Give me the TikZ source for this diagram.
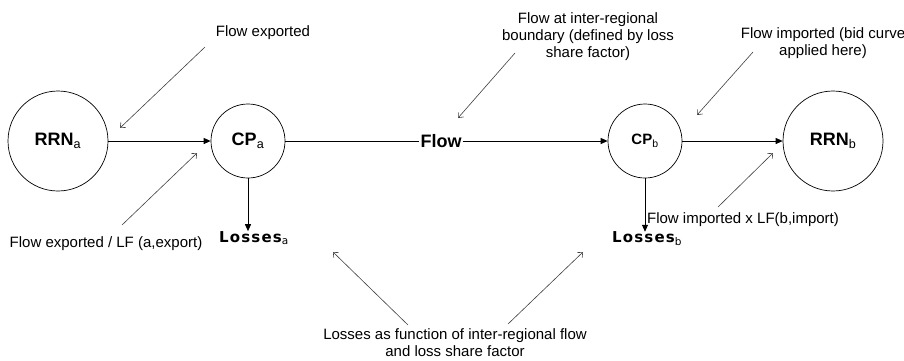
\documentclass[tikz,border=0pt]{standalone}
\usepackage{fontspec}
\setmainfont{Liberation Sans}
\newfontfamily\lossfont{DejaVu Sans}[LetterSpace=8]
\usetikzlibrary{arrows.meta}

\newcommand{\lowsub}[1]{\textsubscript{\mdseries #1}}

\begin{document}
\begin{tikzpicture}[
    x=1pt, y=-1pt,
    region/.style={circle, draw, line width=0.7pt, minimum size=100pt, inner sep=0pt, font=\fontsize{18}{20}\selectfont\bfseries},
    cpoint/.style={circle, draw, line width=0.7pt, minimum size=74pt, inner sep=0pt, font=\fontsize{18}{20}\selectfont\bfseries},
    losslabel/.style={inner sep=0pt, font=\lossfont\fontsize{15}{17}\selectfont\bfseries},
    note/.style={inner sep=0pt, align=center, font=\fontsize{15}{17}\selectfont},
    flowline/.style={line width=0.9pt, -{Triangle[length=7pt, width=6pt]}},
    pointer/.style={line width=0.6pt, draw=black!75, -{Straight Barb[length=4pt, width=7pt]}}
]
    \useasboundingbox (0, 0) rectangle (904, 360);

    % Regions and connection points
    \node[region] (rrna) at (58, 141) {RRN\lowsub{a}};
    \node[cpoint] (cpa) at (248, 141) {CP\lowsub{a}};
    \node[inner sep=1pt, font=\fontsize{18}{20}\selectfont\bfseries] (flow) at (441, 141) {Flow};
    \node[cpoint, font=\fontsize{15}{17}\selectfont\bfseries] (cpb) at (645, 141) {CP\lowsub{b}};
    \node[region] (rrnb) at (833, 141) {RRN\lowsub{b}};

    % Losses
    \node[losslabel] (lossa) at (254, 238) {Losses\lowsub{a}};
    \node[losslabel] (lossb) at (647, 239) {Losses\lowsub{b}};

    % Notes
    \node[note] (exp) at (263, 33) {Flow exported};
    \node[note] (explf) at (106, 244) {Flow exported / LF (a,export)};
    \node[note] (bnd) at (588, 37) {Flow at inter-regional\\boundary (defined by loss\\share factor)};
    \node[note] (imp) at (823, 43) {Flow imported (bid curve\\applied here)};
    \node[note] (implf) at (743, 220) {Flow imported x LF(b,import)};
    \node[note] (lossfn) at (455, 343) {Losses as function of inter-regional flow\\and loss share factor};

    % Pointer ends
    \coordinate (exptail) at (205, 47);
    \coordinate (exptip) at (120, 128);
    \coordinate (explftail) at (122, 225);
    \coordinate (explftip) at (197, 153);
    \coordinate (bndtail) at (515, 53);
    \coordinate (bndtip) at (458, 118);
    \coordinate (imptail) at (753, 52);
    \coordinate (imptip) at (697, 115);
    \coordinate (implftail) at (718, 207);
    \coordinate (implftip) at (773, 153);
    \coordinate (lossltail) at (408, 325);
    \coordinate (lossltip) at (333, 252);
    \coordinate (lossrtail) at (508, 324);
    \coordinate (lossrtip) at (583, 252);

    % Flow path
    \draw[flowline] (rrna) -- (cpa);
    \draw[line width=0.9pt] (cpa) -- (flow);
    \draw[flowline] (flow) -- (cpb);
    \draw[flowline] (cpb) -- (rrnb);

    % Losses arrows
    \draw[flowline] (cpa.south) -- (lossa.north -| cpa.south);
    \draw[flowline] (cpb.south) -- (lossb.north -| cpb.south);

    % Pointers
    \draw[pointer] (exptail) -- (exptip);
    \draw[pointer] (explftail) -- (explftip);
    \draw[pointer] (bndtail) -- (bndtip);
    \draw[pointer] (imptail) -- (imptip);
    \draw[pointer] (implftail) -- (implftip);
    \draw[pointer] (lossltail) -- (lossltip);
    \draw[pointer] (lossrtail) -- (lossrtip);

\end{tikzpicture}
\end{document}
